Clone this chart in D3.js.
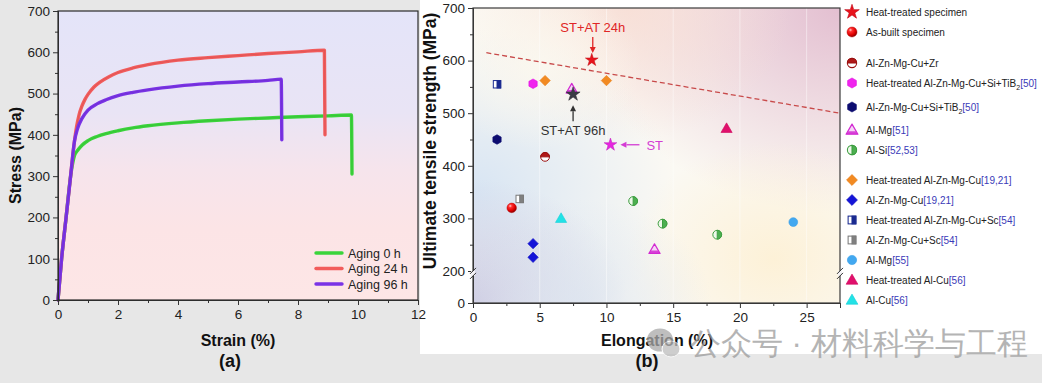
<!DOCTYPE html>
<html><head><meta charset="utf-8">
<script src="https://cdn.jsdelivr.net/npm/d3@7"></script>
<style>
html,body{margin:0;padding:0;background:#e7e7e7;}
svg{display:block;}
text{font-family:"Liberation Sans",Arial,sans-serif;}
</style></head><body>
<svg id="c" width="1042" height="383"></svg>
<script>
// ---------- DATA: panel (a) stress-strain curves ----------
const aging0Strain  = [0, 0.12, 0.27, 0.42, 0.55, 0.65, 0.8, 1.0, 1.3, 1.6, 2.0, 2.5, 3.0, 4.0, 5.0, 6.0, 7.0, 8.0, 9.0, 9.78, 9.8];
const aging0Stress  = [0, 100, 200, 300, 350, 362, 375, 386, 396, 403, 410, 417, 422, 429, 434, 438, 441, 444, 446, 448, 305];
const aging24Strain = [0, 0.12, 0.27, 0.42, 0.55, 0.62, 0.7, 0.8, 0.9, 1.0, 1.2, 1.4, 1.7, 2.0, 2.5, 3.0, 4.0, 5.0, 6.0, 7.0, 8.0, 8.88, 8.9];
const aging24Stress = [0, 100, 200, 300, 385, 420, 448, 470, 486, 498, 516, 528, 541, 551, 562, 570, 581, 587, 592, 597, 601, 605, 400];
const aging96Strain = [0, 0.12, 0.27, 0.42, 0.55, 0.65, 0.8, 1.0, 1.3, 1.6, 2.0, 2.5, 3.0, 4.0, 5.0, 6.0, 7.0, 7.44, 7.46];
const aging96Stress = [0, 100, 200, 300, 385, 415, 440, 460, 475, 485, 495, 503, 509, 518, 524, 528, 532, 535, 388];
const curveNames = ["Aging 0 h", "Aging 24 h", "Aging 96 h"];
const strainTicks = [0, 2, 4, 6, 8, 10, 12];
const stressTicks = [0, 100, 200, 300, 400, 500, 600, 700];

// ---------- DATA: panel (b) UTS vs elongation ----------
const htSpecimenX = [8.9, 7.5, 10.3];     // ST+AT 24h, ST+AT 96h, ST
const htSpecimenY = [601, 536, 440];
const asBuiltX = [2.9],  asBuiltY = [320];
const znZrX = [5.4],     znZrY = [417];
const htTiB2X = [4.5],   htTiB2Y = [556];
const tiB2X = [1.8],     tiB2Y = [450];
const alMg51X = [7.4, 13.6], alMg51Y = [546, 241];
const alSiX = [12.0, 14.2, 18.3], alSiY = [333, 290, 269];
const htZnX = [5.4, 10.0], htZnY = [562, 562];
const znX = [4.5, 4.5],  znY = [252, 226];
const htScX = [1.8],     htScY = [555];
const scX = [3.5],       scY = [337];
const alMg55X = [24.0],  alMg55Y = [293];
const htCuX = [19.0],    htCuY = [471];
const cuX = [6.6],       cuY = [300];
const trendX = [1.0, 27.5], trendY = [615, 500];
const elongTicks = [0, 5, 10, 15, 20, 25];
const utsTicks = [0, 200, 300, 400, 500, 600, 700];
const annoLabels = ["ST+AT 24h", "ST+AT 96h", "ST"];

const legendNames = ["Heat-treated specimen", "As-built specimen", "Al-Zn-Mg-Cu+Zr",
  "Heat-treated Al-Zn-Mg-Cu+Si+TiB₂", "Al-Zn-Mg-Cu+Si+TiB₂", "Al-Mg", "Al-Si",
  "Heat-treated Al-Zn-Mg-Cu", "Al-Zn-Mg-Cu", "Heat-treated Al-Zn-Mg-Cu+Sc", "Al-Zn-Mg-Cu+Sc",
  "Al-Mg", "Heat-treated Al-Cu", "Al-Cu"];
const legendRefs = ["", "", "", "[50]", "[50]", "[51]", "[52,53]", "[19,21]", "[19,21]", "[54]", "[54]", "[55]", "[56]", "[56]"];

// ---------- STYLES / LAYOUT ----------
const curveColors = ["#3bd43b", "#f25c5c", "#7a33e6"];
const legendRowY = [12, 32, 63, 83, 107, 130, 150, 180, 200, 220, 240, 260, 280, 300];
const markerStyles = [
  {type:"star", fill:"#e8141c", stroke:"#c00010"},
  {type:"sphere", fill:"#e81818", stroke:"#b00000"},
  {type:"halfTop", fill:"#b01818", stroke:"#9a1010"},
  {type:"hex", fill:"#f024ee", stroke:"#e010e0"},
  {type:"hex", fill:"#0c0c70", stroke:"#0c0c70"},
  {type:"triOpen", fill:"#f6d6f6", stroke:"#d22ad2"},
  {type:"halfRight", fill:"#4caf50", stroke:"#3d9e40"},
  {type:"diamond", fill:"#f28a22", stroke:"#e57a10"},
  {type:"diamond", fill:"#1414d8", stroke:"#1010c0"},
  {type:"sqHalf", fill:"#1a2a90", stroke:"#1a2a90"},
  {type:"sqHalf", fill:"#808080", stroke:"#7a7a7a"},
  {type:"circle", fill:"#42a8f0", stroke:"#3aa0e8"},
  {type:"tri", fill:"#e0106c", stroke:"#d0085e"},
  {type:"tri", fill:"#22e2e6", stroke:"#18d0d8"}
];
const scatterSeries = [
  [asBuiltX, asBuiltY, 1], [znZrX, znZrY, 2], [htTiB2X, htTiB2Y, 3], [tiB2X, tiB2Y, 4],
  [alMg51X, alMg51Y, 5], [alSiX, alSiY, 6], [htZnX, htZnY, 7], [znX, znY, 8],
  [htScX, htScY, 9], [scX, scY, 10], [alMg55X, alMg55Y, 11], [htCuX, htCuY, 12], [cuX, cuY, 13]
];
const starColors = ["#e8141c", "#3a3a44", "#e626e0"];
const annoColors = ["#e02626", "#333333", "#d43cd4"];

const svg = d3.select("#c");
const defs = svg.append("defs");
const FONT = '"Liberation Sans", Arial, sans-serif';

// backgrounds
svg.append("rect").attr("width", 1042).attr("height", 383).attr("fill", "#e7e7e7");
svg.append("rect").attr("x", 420).attr("y", 0).attr("width", 622).attr("height", 354).attr("fill", "#ffffff");

// ================= PANEL (a) =================
const xL = d3.scaleLinear().domain([0, 12]).range([58, 418]);
const yL = d3.scaleLinear().domain([0, 700]).range([300, 11]);

const lg = defs.append("linearGradient").attr("id", "gA").attr("x1", 0).attr("y1", 0).attr("x2", 0).attr("y2", 1);
[[0, "#e4e4f9"], [0.35, "#e9e4f5"], [0.55, "#f6e4ec"], [0.75, "#fce4e6"], [1, "#fde6e6"]].forEach(s =>
  lg.append("stop").attr("offset", s[0]).attr("stop-color", s[1]));
svg.append("rect").attr("x", xL(0)).attr("y", yL(700)).attr("width", xL(12) - xL(0)).attr("height", yL(0) - yL(700)).attr("fill", "url(#gA)");

const gA = svg.append("g");
const lineGen = d3.line().x(d => xL(d[0])).y(d => yL(d[1])).curve(d3.curveMonotoneX);
const curves = [[aging0Strain, aging0Stress], [aging24Strain, aging24Stress], [aging96Strain, aging96Stress]];
curves.forEach((c, i) => {
  const pts = c[0].map((s, j) => [s, c[1][j]]);
  gA.append("path").attr("d", lineGen(pts)).attr("fill", "none").attr("stroke", curveColors[i])
    .attr("stroke-width", 3.4).attr("stroke-linejoin", "round").attr("stroke-linecap", "round");
  gA.append("path").attr("d", lineGen(pts)).attr("fill", "none").attr("stroke", d3.color(curveColors[i]).darker(0.6))
    .attr("stroke-width", 0.6).attr("opacity", 0.6);
});

// axes (a)
svg.append("g").attr("transform", `translate(${xL(0)},0)`)
  .call(d3.axisLeft(yL).tickValues(stressTicks).tickSize(5).tickPadding(3).tickFormat(d3.format("d")));
svg.append("g").attr("transform", `translate(0,${yL(0)})`)
  .call(d3.axisBottom(xL).tickValues(strainTicks).tickSize(5).tickPadding(4).tickFormat(d3.format("d")));
svg.append("g").attr("transform", `translate(${xL(0)},0)`)
  .call(d3.axisLeft(yL).tickValues(stressTicks.slice(0, -1).map(v => v + 50)).tickSize(3).tickFormat(""));
svg.append("g").attr("transform", `translate(0,${yL(0)})`)
  .call(d3.axisBottom(xL).tickValues(strainTicks.slice(0, -1).map(v => v + 1)).tickSize(3).tickFormat(""));
svg.append("rect").attr("x", xL(0)).attr("y", yL(700)).attr("width", xL(12) - xL(0)).attr("height", yL(0) - yL(700))
  .attr("fill", "none").attr("stroke", "#2a2a2a").attr("stroke-width", 1.2);

// legend (a)
curveNames.forEach((n, i) => {
  const y = 253 + i * 15.5;
  svg.append("line").attr("x1", 316).attr("x2", 342).attr("y1", y).attr("y2", y)
    .attr("stroke", curveColors[i]).attr("stroke-width", 3.4).attr("stroke-linecap", "round");
  svg.append("text").attr("x", 348).attr("y", y + 4.5).text(n).attr("font-size", 12.5).attr("fill", "#222");
});
svg.append("text").attr("transform", `translate(21,155.5) rotate(-90)`).attr("text-anchor", "middle")
  .attr("font-size", 16).attr("font-weight", "bold").attr("fill", "#111").text("Stress (MPa)");
svg.append("text").attr("x", 238).attr("y", 346).attr("text-anchor", "middle")
  .attr("font-size", 16).attr("font-weight", "bold").attr("fill", "#111").text("Strain (%)");
svg.append("text").attr("x", 230).attr("y", 367).attr("text-anchor", "middle")
  .attr("font-size", 18).attr("font-weight", "bold").attr("fill", "#111").text("(a)");

// ================= PANEL (b) =================
const xR = d3.scaleLinear().domain([0, 27.5]).range([473, 840]);
const yR = d3.scaleLinear().domain([0, 200, 700]).range([303, 271, 8]);
const px0 = xR(0), px1 = xR(27.5), py0 = yR(0), py1 = yR(700);

// background blends
svg.append("rect").attr("x", px0).attr("y", py1).attr("width", px1 - px0).attr("height", py0 - py1).attr("fill", "#fbf9f3");
const blobs = [
  ["b1", "100%", "0%", "70%", "#e2bccf", 0.95],
  ["b2", "42%", "0%", "45%", "#f8dcd2", 0.8],
  ["b3", "0%", "62%", "55%", "#d6e4f3", 0.95],
  ["b4", "0%", "100%", "42%", "#cdcbe2", 0.95],
  ["b5", "82%", "85%", "40%", "#fdf0d4", 0.9],
  ["b6", "30%", "100%", "35%", "#d9e3f0", 0.7],
  ["b7", "18%", "20%", "28%", "#fbf8ef", 0.9]
];
blobs.forEach(b => {
  const rg = defs.append("radialGradient").attr("id", b[0]).attr("cx", b[1]).attr("cy", b[2]).attr("r", b[3]);
  rg.append("stop").attr("offset", 0).attr("stop-color", b[4]).attr("stop-opacity", b[5]);
  rg.append("stop").attr("offset", 1).attr("stop-color", b[4]).attr("stop-opacity", 0);
  svg.append("rect").attr("x", px0).attr("y", py1).attr("width", px1 - px0).attr("height", py0 - py1).attr("fill", `url(#${b[0]})`);
});
// faint grid
svg.append("g").selectAll("line").data(elongTicks.slice(1)).join("line")
  .attr("x1", d => xR(d)).attr("x2", d => xR(d)).attr("y1", py1).attr("y2", py0)
  .attr("stroke", "#ffffff").attr("stroke-opacity", 0.45).attr("stroke-width", 1);

defs.append("clipPath").attr("id", "clipB").append("rect").attr("x", px0).attr("y", py1).attr("width", px1 - px0).attr("height", py0 - py1);

// trend line
svg.append("line").attr("clip-path", "url(#clipB)")
  .attr("x1", xR(trendX[0])).attr("y1", yR(trendY[0])).attr("x2", xR(trendX[1])).attr("y2", yR(trendY[1]))
  .attr("stroke", "#c84a4a").attr("stroke-width", 1.3).attr("stroke-dasharray", "5,3");

// sphere gradient
const sg = defs.append("radialGradient").attr("id", "sph").attr("cx", "35%").attr("cy", "30%").attr("r", "70%");
[[0, "#ffd0d0"], [0.25, "#ff3030"], [0.7, "#e00000"], [1, "#900000"]].forEach(s => sg.append("stop").attr("offset", s[0]).attr("stop-color", s[1]));

function drawMarker(g, st, cx, cy, scale) {
  const k = scale || 1;
  const m = g.append("g").attr("transform", `translate(${cx},${cy}) scale(${k})`);
  const r = 4.4;
  switch (st.type) {
    case "star":
      m.append("path").attr("d", d3.symbol(d3.symbolStar, 46)()).attr("fill", st.fill).attr("stroke", st.stroke).attr("stroke-width", 0.5);
      break;
    case "sphere":
      m.append("circle").attr("r", 4.8).attr("fill", "url(#sph)").attr("stroke", st.stroke).attr("stroke-width", 0.4);
      break;
    case "circle":
      m.append("circle").attr("r", r).attr("fill", st.fill).attr("stroke", st.stroke).attr("stroke-width", 0.6);
      break;
    case "halfTop":
      m.append("circle").attr("r", r).attr("fill", "#fff").attr("stroke", st.stroke).attr("stroke-width", 1);
      m.append("path").attr("d", `M${-r},0 A${r},${r} 0 0 1 ${r},0 Z`).attr("fill", st.fill).attr("stroke", st.stroke).attr("stroke-width", 1);
      break;
    case "halfRight":
      m.append("circle").attr("r", r).attr("fill", "#eef8ea").attr("stroke", st.stroke).attr("stroke-width", 1);
      m.append("path").attr("d", `M0,${-r} A${r},${r} 0 0 1 0,${r} Z`).attr("fill", st.fill).attr("stroke", st.stroke).attr("stroke-width", 1);
      break;
    case "hex": {
      const h = 4.8;
      const pts = d3.range(6).map(i => { const a = Math.PI / 6 + i * Math.PI / 3; return [h * Math.cos(a), h * Math.sin(a)]; });
      m.append("path").attr("d", "M" + pts.join("L") + "Z").attr("fill", st.fill).attr("stroke", st.stroke).attr("stroke-width", 0.6);
      break; }
    case "diamond": {
      const d = 5.2;
      m.append("path").attr("d", `M0,${-d}L${d},0L0,${d}L${-d},0Z`).attr("fill", st.fill).attr("stroke", st.stroke).attr("stroke-width", 0.6);
      break; }
    case "tri": case "triOpen": {
      const s = 5.6;
      const path = `M0,${-s}L${s},${s * 0.72}L${-s},${s * 0.72}Z`;
      m.append("path").attr("d", path).attr("fill", st.fill).attr("stroke", st.stroke)
        .attr("stroke-width", st.type === "tri" ? 0.6 : 1.2).attr("stroke-linejoin", "round");
      if (st.type === "triOpen") m.append("path").attr("d", `M${-s * 0.62},${s * 0.2}L${s * 0.62},${s * 0.2}L${s},${s * 0.72}L${-s},${s * 0.72}Z`).attr("fill", st.stroke).attr("opacity", 0.85);
      break; }
    case "sqHalf": {
      const q = 3.7;
      m.append("rect").attr("x", -q).attr("y", -q).attr("width", 2 * q).attr("height", 2 * q).attr("fill", "#fff").attr("stroke", st.stroke).attr("stroke-width", 1);
      m.append("rect").attr("x", 0).attr("y", -q).attr("width", q).attr("height", 2 * q).attr("fill", st.fill).attr("stroke", st.stroke).attr("stroke-width", 1);
      break; }
  }
}

const gPts = svg.append("g");
scatterSeries.forEach(s => {
  s[0].forEach((x, j) => drawMarker(gPts, markerStyles[s[2]], xR(x), yR(s[1][j])));
});
htSpecimenX.forEach((x, j) => {
  drawMarker(gPts, {type: "star", fill: starColors[j], stroke: d3.color(starColors[j]).darker(0.5)}, xR(x), yR(htSpecimenY[j]), j === 1 ? 1.15 : 1.05);
});

// annotations
function arrow(x1, y1, x2, y2, color) {
  const ang = Math.atan2(y2 - y1, x2 - x1), L = 6, w = 3;
  const bx = x2 - L * Math.cos(ang), by = y2 - L * Math.sin(ang);
  svg.append("line").attr("x1", x1).attr("y1", y1).attr("x2", bx).attr("y2", by).attr("stroke", color).attr("stroke-width", 1.3);
  svg.append("path").attr("d", `M${x2},${y2}L${bx + w * Math.sin(ang)},${by - w * Math.cos(ang)}L${bx - w * Math.sin(ang)},${by + w * Math.cos(ang)}Z`).attr("fill", color);
}
{
  const ax = xR(htSpecimenX[0]), ay = yR(htSpecimenY[0]);
  svg.append("text").attr("x", ax + 1).attr("y", ay - 28).attr("text-anchor", "middle").attr("font-size", 13).attr("fill", annoColors[0]).text(annoLabels[0]);
  arrow(ax + 1, ay - 23, ax + 1, ay - 7, annoColors[0]);
  const bx = xR(htSpecimenX[1]), by = yR(htSpecimenY[1]);
  svg.append("text").attr("x", bx).attr("y", by + 41).attr("text-anchor", "middle").attr("font-size", 13).attr("fill", annoColors[1]).text(annoLabels[1]);
  arrow(bx, by + 27, bx, by + 11, annoColors[1]);
  const cx = xR(htSpecimenX[2]), cy = yR(htSpecimenY[2]);
  svg.append("text").attr("x", cx + 36).attr("y", cy + 5).attr("font-size", 13).attr("fill", annoColors[2]).text(annoLabels[2]);
  arrow(cx + 29, cy, cx + 10, cy, annoColors[2]);
}

// axes (b)
svg.append("g").attr("transform", `translate(${px0},0)`)
  .call(d3.axisLeft(yR).tickValues(utsTicks).tickSize(5).tickPadding(3).tickFormat(d3.format("d")));
svg.append("g").attr("transform", `translate(0,${py0})`)
  .call(d3.axisBottom(xR).tickValues(elongTicks).tickSize(5).tickPadding(4).tickFormat(d3.format("d")));
svg.append("g").attr("transform", `translate(${px0},0)`)
  .call(d3.axisLeft(yR).tickValues(utsTicks.slice(1, -1).map(v => v + 50)).tickSize(3).tickFormat(""));
svg.append("g").attr("transform", `translate(0,${py0})`)
  .call(d3.axisBottom(xR).tickValues(elongTicks.map(v => v + 2.5)).tickSize(3).tickFormat(""));
svg.append("rect").attr("x", px0).attr("y", py1).attr("width", px1 - px0).attr("height", py0 - py1)
  .attr("fill", "none").attr("stroke", "#3a3a3a").attr("stroke-width", 1.2);
// axis break marks
[px0, px1].forEach(x => {
  const yb = yR(185);
  svg.append("rect").attr("x", x - 2).attr("y", yb - 2.5).attr("width", 4).attr("height", 5).attr("fill", "#f4f2f6");
  [-2.5, 2.5].forEach(o => svg.append("line").attr("x1", x - 3).attr("y1", yb + o + 3).attr("x2", x + 3).attr("y2", yb + o - 3)
    .attr("stroke", "#333").attr("stroke-width", 1));
});

svg.selectAll(".tick text").attr("font-size", 13.5).attr("fill", "#222").attr("font-family", FONT);
svg.selectAll(".tick line").attr("stroke", "#333");
svg.selectAll(".domain").attr("stroke", "#333");

svg.append("text").attr("transform", `translate(436,141) rotate(-90)`).attr("text-anchor", "middle")
  .attr("font-size", 17.5).attr("font-weight", "bold").attr("fill", "#111").text("Ultimate tensile strength (MPa)");
svg.append("text").attr("x", 657).attr("y", 346).attr("text-anchor", "middle")
  .attr("font-size", 16).attr("font-weight", "bold").attr("fill", "#111").text("Elongation (%)");
svg.append("text").attr("x", 647).attr("y", 367).attr("text-anchor", "middle")
  .attr("font-size", 18).attr("font-weight", "bold").attr("fill", "#111").text("(b)");

// legend (b)
legendNames.forEach((n, i) => {
  const y = legendRowY[i];
  drawMarker(svg, markerStyles[i], 852, y, i === 0 ? 1.2 : 1.05);
  const t = svg.append("text").attr("x", 866).attr("y", y + 3.6).attr("font-size", 10).attr("fill", "#222");
  const parts = n.split("₂");
  t.append("tspan").text(parts[0]);
  if (parts.length > 1) t.append("tspan").attr("font-size", 7).attr("dy", 3).text("2");
  if (legendRefs[i]) t.append("tspan").attr("fill", "#3a3ab8").attr("dy", parts.length > 1 ? -3 : 0).text(legendRefs[i]);
});

// watermark
const wm = svg.append("g").attr("opacity", 0.75);
wm.append("ellipse").attr("cx", 660).attr("cy", 340).attr("rx", 13).attr("ry", 11.5).attr("fill", "#a9a9a9");
wm.append("ellipse").attr("cx", 671).attr("cy", 349).attr("rx", 9).attr("ry", 8).attr("fill", "#bdbdbd").attr("stroke", "#fff").attr("stroke-width", 1);
wm.append("text").attr("x", 690).attr("y", 354).attr("font-size", 31).attr("fill", "#9c9c9c")
  .attr("font-family", '"Noto Sans CJK SC", sans-serif').attr("font-weight", 300).text("公众号 · 材料科学与工程");
</script>
</body></html>
